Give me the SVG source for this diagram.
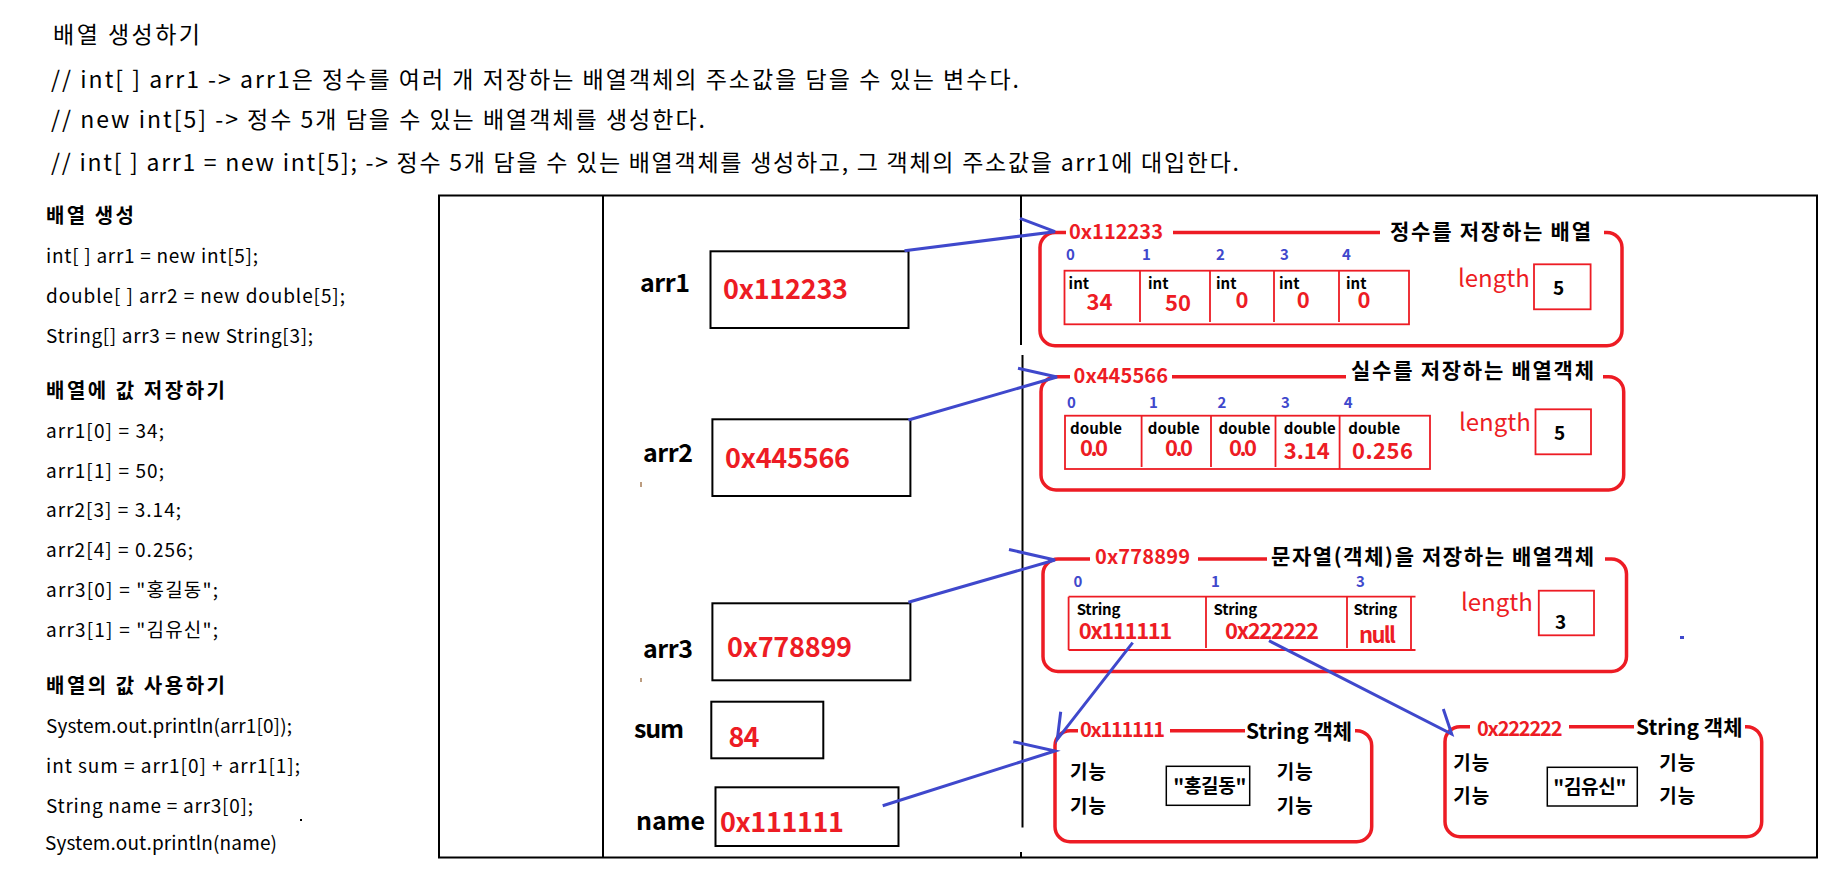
<svg xmlns="http://www.w3.org/2000/svg" width="1845" height="880" viewBox="0 0 1845 880">
<style>
text{font-family:"Noto Sans CJK KR","Noto Sans",sans-serif;fill:#000}
.b{font-weight:bold}
.r{fill:#ed1c24}
.bl{fill:#3f48cc;font-weight:bold;font-size:15px}
.h{font-size:23px}
.c{font-size:19px}
.hd{font-size:20px;font-weight:bold}
.var{font-size:25px;font-weight:bold}
.addr{font-size:27px;font-weight:bold;fill:#ed1c24}
.frame{fill:none;stroke:#000;stroke-width:2}
.vbox{fill:none;stroke:#000;stroke-width:2}
.obj{fill:none;stroke:#ed1c24;stroke-width:3.5}
.cell{fill:none;stroke:#ed1c24;stroke-width:1.8}
.conn{fill:none;stroke:#3f48cc;stroke-width:3;stroke-linejoin:miter}
.ty{font-size:15px;font-weight:bold}
.val{font-size:22px;font-weight:bold;fill:#ed1c24}
.len{font-size:24px;fill:#ed1c24}
.oh{font-size:20px;font-weight:bold;fill:#ed1c24}
.ot{font-size:21px;font-weight:bold}
.fn{font-size:19px;font-weight:bold}
</style>

<g id="intro">
<text class="h" x="53" y="43" textLength="147">배열 생성하기</text>
<text class="h" x="51" y="88" textLength="968">// int[ ] arr1 -&gt; arr1은 정수를 여러 개 저장하는 배열객체의 주소값을 담을 수 있는 변수다.</text>
<text class="h" x="51" y="128" textLength="654">// new int[5] -&gt; 정수 5개 담을 수 있는 배열객체를 생성한다.</text>
<text class="h" x="51" y="171" textLength="1188">// int[ ] arr1 = new int[5]; -&gt; 정수 5개 담을 수 있는 배열객체를 생성하고, 그 객체의 주소값을 arr1에 대입한다.</text>
</g>

<g id="code">
<text class="hd" x="46" y="223" textLength="88">배열 생성</text>
<text class="c" x="46" y="263" textLength="212">int[ ] arr1  = new int[5];</text>
<text class="c" x="46" y="303" textLength="299">double[ ] arr2 = new double[5];</text>
<text class="c" x="46" y="343" textLength="267">String[] arr3 = new String[3];</text>
<text class="hd" x="46" y="398" textLength="179">배열에 값 저장하기</text>
<text class="c" x="46" y="438" textLength="118">arr1[0] = 34;</text>
<text class="c" x="46" y="478" textLength="118">arr1[1] = 50;</text>
<text class="c" x="46" y="517" textLength="135">arr2[3] = 3.14;</text>
<text class="c" x="46" y="557" textLength="147">arr2[4] = 0.256;</text>
<text class="c" x="46" y="597" textLength="172">arr3[0] = "홍길동";</text>
<text class="c" x="46" y="637" textLength="172">arr3[1] = "김유신";</text>
<text class="hd" x="46" y="693" textLength="179">배열의 값 사용하기</text>
<text class="c" x="46" y="733" textLength="246">System.out.println(arr1[0]);</text>
<text class="c" x="46" y="773" textLength="254">int sum = arr1[0] + arr1[1];</text>
<text class="c" x="46" y="813" textLength="207">String name = arr3[0];</text>
<text class="c" x="45" y="850" textLength="232">System.out.println(name)</text>
<rect x="300" y="819" width="2" height="2" fill="#000"/>
</g>

<g id="frame">
<rect class="frame" x="439" y="195.5" width="1378" height="662"/>
<line class="frame" x1="603" y1="195.5" x2="603" y2="857.5"/>
<line class="frame" x1="1021" y1="195.5" x2="1021" y2="345"/>
<line class="frame" x1="1022.5" y1="355" x2="1022.5" y2="827.5"/>
<line class="frame" x1="1021" y1="852" x2="1021" y2="857.5" stroke-width="1"/>
<line x1="641" y1="482" x2="641" y2="487" stroke="#7a3a00" stroke-width="1"/>
<line x1="641" y1="678" x2="641" y2="682" stroke="#7a3a00" stroke-width="1"/>
</g>

<g id="var-arr1">
<text class="var" x="640" y="292" textLength="50">arr1</text>
<rect class="vbox" x="710.5" y="251.3" width="198" height="76.7"/>
<text class="addr" x="723" y="299" textLength="125">0x112233</text>
</g>
<g id="var-arr2">
<text class="var" x="643" y="462" textLength="50">arr2</text>
<rect class="vbox" x="712.4" y="419.3" width="198" height="76.7"/>
<text class="addr" x="725" y="468" textLength="125">0x445566</text>
</g>
<g id="var-arr3">
<text class="var" x="643" y="658" textLength="50">arr3</text>
<rect class="vbox" x="712.4" y="603.3" width="198" height="77"/>
<text class="addr" x="727" y="657" textLength="125">0x778899</text>
</g>
<g id="var-sum">
<text class="var" x="634" y="738" textLength="50">sum</text>
<rect class="vbox" x="711.3" y="701.7" width="112" height="56.6"/>
<text class="addr" x="728.5" y="747" textLength="31">84</text>
</g>
<g id="var-name">
<text class="var" x="636" y="830" textLength="69">name</text>
<rect class="vbox" x="715.5" y="787.3" width="183" height="58.7"/>
<text class="addr" x="720" y="832" textLength="124">0x111111</text>
</g>

<g id="obj-int">
<path class="obj" d="M1066,232.5 L1055,232.5 A15,15 0 0 0 1040,247.5 L1040,330.7 A15,15 0 0 0 1055,345.7 L1607,345.7 A15,15 0 0 0 1622,330.7 L1622,247.5 A15,15 0 0 0 1607,232.5 L1604,232.5 M1173,232.5 L1380,232.5"/>
<text class="oh" x="1069" y="239" textLength="94">0x112233</text>
<text class="ot" x="1390" y="239" textLength="201">정수를 저장하는 배열</text>
<text class="bl" x="1066" y="260">0</text>
<text class="bl" x="1142" y="260">1</text>
<text class="bl" x="1216" y="260">2</text>
<text class="bl" x="1280" y="260">3</text>
<text class="bl" x="1342" y="260">4</text>
<rect class="cell" x="1064.5" y="270.7" width="344.5" height="53.6"/>
<path class="cell" d="M1140,270.7 V322 M1210,270.7 V322 M1274,270.7 V322 M1339,270.7 V322"/>
<text class="ty" x="1068.6" y="289.3">int</text>
<text class="ty" x="1148" y="289.3">int</text>
<text class="ty" x="1216" y="289.3">int</text>
<text class="ty" x="1279" y="289.3">int</text>
<text class="ty" x="1346" y="289.3">int</text>
<text class="val" x="1086.5" y="310">34</text>
<text class="val" x="1165" y="310.5">50</text>
<text class="val" x="1235.5" y="307.5">0</text>
<text class="val" x="1296.7" y="307.5">0</text>
<text class="val" x="1357.5" y="307.5">0</text>
<text class="len" x="1458" y="287.3">length</text>
<rect class="cell" x="1534" y="264.3" width="56.6" height="45"/>
<text class="fn" x="1553" y="295">5</text>
</g>

<g id="obj-double">
<path class="obj" d="M1070,376.7 L1056,376.7 A15,15 0 0 0 1041,391.7 L1041,475 A15,15 0 0 0 1056,490 L1608.7,490 A15,15 0 0 0 1623.7,475 L1623.7,391.7 A15,15 0 0 0 1608.7,376.7 L1603,376.7 M1172,376.7 L1346,376.7"/>
<text class="oh" x="1073.5" y="383" textLength="94.5">0x445566</text>
<text class="ot" x="1351" y="378" textLength="243">실수를 저장하는 배열객체</text>
<text class="bl" x="1067" y="408.3">0</text>
<text class="bl" x="1149" y="408.3">1</text>
<text class="bl" x="1217.5" y="408.3">2</text>
<text class="bl" x="1281" y="408.3">3</text>
<text class="bl" x="1343.7" y="408.3">4</text>
<rect class="cell" x="1065" y="415.7" width="365" height="53.3"/>
<path class="cell" d="M1141.6,415.7 V467 M1211,415.7 V467 M1275.5,415.7 V467 M1339.6,415.7 V469"/>
<text class="ty" x="1070" y="434" font-size="15.5" textLength="52">double</text>
<text class="ty" x="1147.8" y="434" font-size="15.5" textLength="52">double</text>
<text class="ty" x="1218.4" y="434" font-size="15.5" textLength="52">double</text>
<text class="ty" x="1283.7" y="434" font-size="15.5" textLength="52">double</text>
<text class="ty" x="1348.2" y="434" font-size="15.5" textLength="52">double</text>
<text class="val" x="1080" y="455.5" font-size="18" textLength="28">0.0</text>
<text class="val" x="1165" y="455.5" font-size="18" textLength="28">0.0</text>
<text class="val" x="1229" y="455.5" font-size="18" textLength="28">0.0</text>
<text class="val" x="1283.7" y="459" font-size="22" textLength="46">3.14</text>
<text class="val" x="1352" y="459" font-size="22" textLength="61">0.256</text>
<text class="len" x="1459" y="431">length</text>
<rect class="cell" x="1535.5" y="409.3" width="55.5" height="45"/>
<text class="fn" x="1554" y="440">5</text>
</g>

<g id="obj-string">
<path class="obj" d="M1090,559 L1058,559 A15,15 0 0 0 1043,574 L1043,656.5 A15,15 0 0 0 1058,671.5 L1611.5,671.5 A15,15 0 0 0 1626.5,656.5 L1626.5,574 A15,15 0 0 0 1611.5,559 L1605,559 M1198,559 L1267,559"/>
<text class="oh" x="1095" y="564" textLength="95">0x778899</text>
<text class="ot" x="1271" y="564" textLength="323">문자열(객체)을 저장하는 배열객체</text>
<text class="bl" x="1073.5" y="586.7">0</text>
<text class="bl" x="1211" y="586.7">1</text>
<text class="bl" x="1356" y="586.7">3</text>
<path class="cell" d="M1068.6,596.7 H1415.5 M1068.6,650 H1415.5 M1068.6,596.7 V650 M1411,596.7 V650 M1206,596.7 V648 M1347,596.7 V648"/>
<text class="ty" x="1076.7" y="615" textLength="43.7">String</text>
<text class="ty" x="1213.5" y="615" textLength="43.7">String</text>
<text class="ty" x="1353.5" y="615" textLength="43.7">String</text>
<text class="val" x="1078.8" y="639.3" font-size="21" textLength="93.5">0x111111</text>
<text class="val" x="1225" y="639.3" font-size="21" textLength="94">0x222222</text>
<text class="val" x="1359" y="642.7" font-size="21" textLength="37">null</text>
<text class="len" x="1461" y="610.7">length</text>
<rect class="cell" x="1538.8" y="590.7" width="55.2" height="44.6"/>
<text class="fn" x="1555" y="629.3">3</text>
<rect x="1680" y="636" width="4" height="3" fill="#3f48cc"/>
</g>

<g id="str-hong">
<path class="obj" d="M1078,730.7 L1070,730.7 A15,15 0 0 0 1055,745.7 L1055,826.7 A15,15 0 0 0 1070,841.7 L1356.7,841.7 A15,15 0 0 0 1371.7,826.7 L1371.7,745.7 A15,15 0 0 0 1356.7,730.7 L1355,730.7 M1170,730.7 L1245,730.7"/>
<text class="oh" x="1080" y="737" font-size="19" textLength="85">0x111111</text>
<text class="ot" x="1246" y="739" font-size="20" textLength="106">String 객체</text>
<text class="fn" x="1070" y="779.3" textLength="36">기능</text>
<text class="fn" x="1070" y="812.7" textLength="36">기능</text>
<text class="fn" x="1276.7" y="779.3" textLength="36">기능</text>
<text class="fn" x="1276.7" y="812.7" textLength="36">기능</text>
<rect x="1166.3" y="766.3" width="83.4" height="39" fill="none" stroke="#000" stroke-width="1.5"/>
<text class="fn" x="1173.3" y="792.7" textLength="73">"홍길동"</text>
</g>

<g id="str-kim">
<path class="obj" d="M1470,726.7 L1460,726.7 A15,15 0 0 0 1445,741.7 L1445,821.7 A15,15 0 0 0 1460,836.7 L1746.7,836.7 A15,15 0 0 0 1761.7,821.7 L1761.7,741.7 A15,15 0 0 0 1746.7,726.7 L1745,726.7 M1569,726.7 L1634,726.7"/>
<text class="oh" x="1477" y="736" font-size="19" textLength="85.5">0x222222</text>
<text class="ot" x="1636" y="735" font-size="20" textLength="106.5">String 객체</text>
<text class="fn" x="1453.3" y="770" textLength="36">기능</text>
<text class="fn" x="1453.3" y="803.3" textLength="36">기능</text>
<text class="fn" x="1659.3" y="770" textLength="36">기능</text>
<text class="fn" x="1659.3" y="803.3" textLength="36">기능</text>
<rect x="1547.3" y="767.3" width="90" height="38.7" fill="none" stroke="#000" stroke-width="1.5"/>
<text class="fn" x="1553.3" y="794" textLength="73">"김유신"</text>
</g>

<g id="connectors">
<path class="conn" d="M904.5,250.7 L1055,231.7 L1020,218.3"/>
<path class="conn" d="M908.4,420 L1057,377 L1018,368.3"/>
<path class="conn" d="M908.4,602.3 L1055,560 L1009,549.5"/>
<path class="conn" d="M882.7,805.7 L1055,751 L1013.3,741.7"/>
<path class="conn" d="M1132.7,642.7 L1057.3,739.3 L1060.7,711.7"/>
<path class="conn" d="M1269,640.7 L1451.7,734 L1443.3,709"/>
</g>
</svg>
